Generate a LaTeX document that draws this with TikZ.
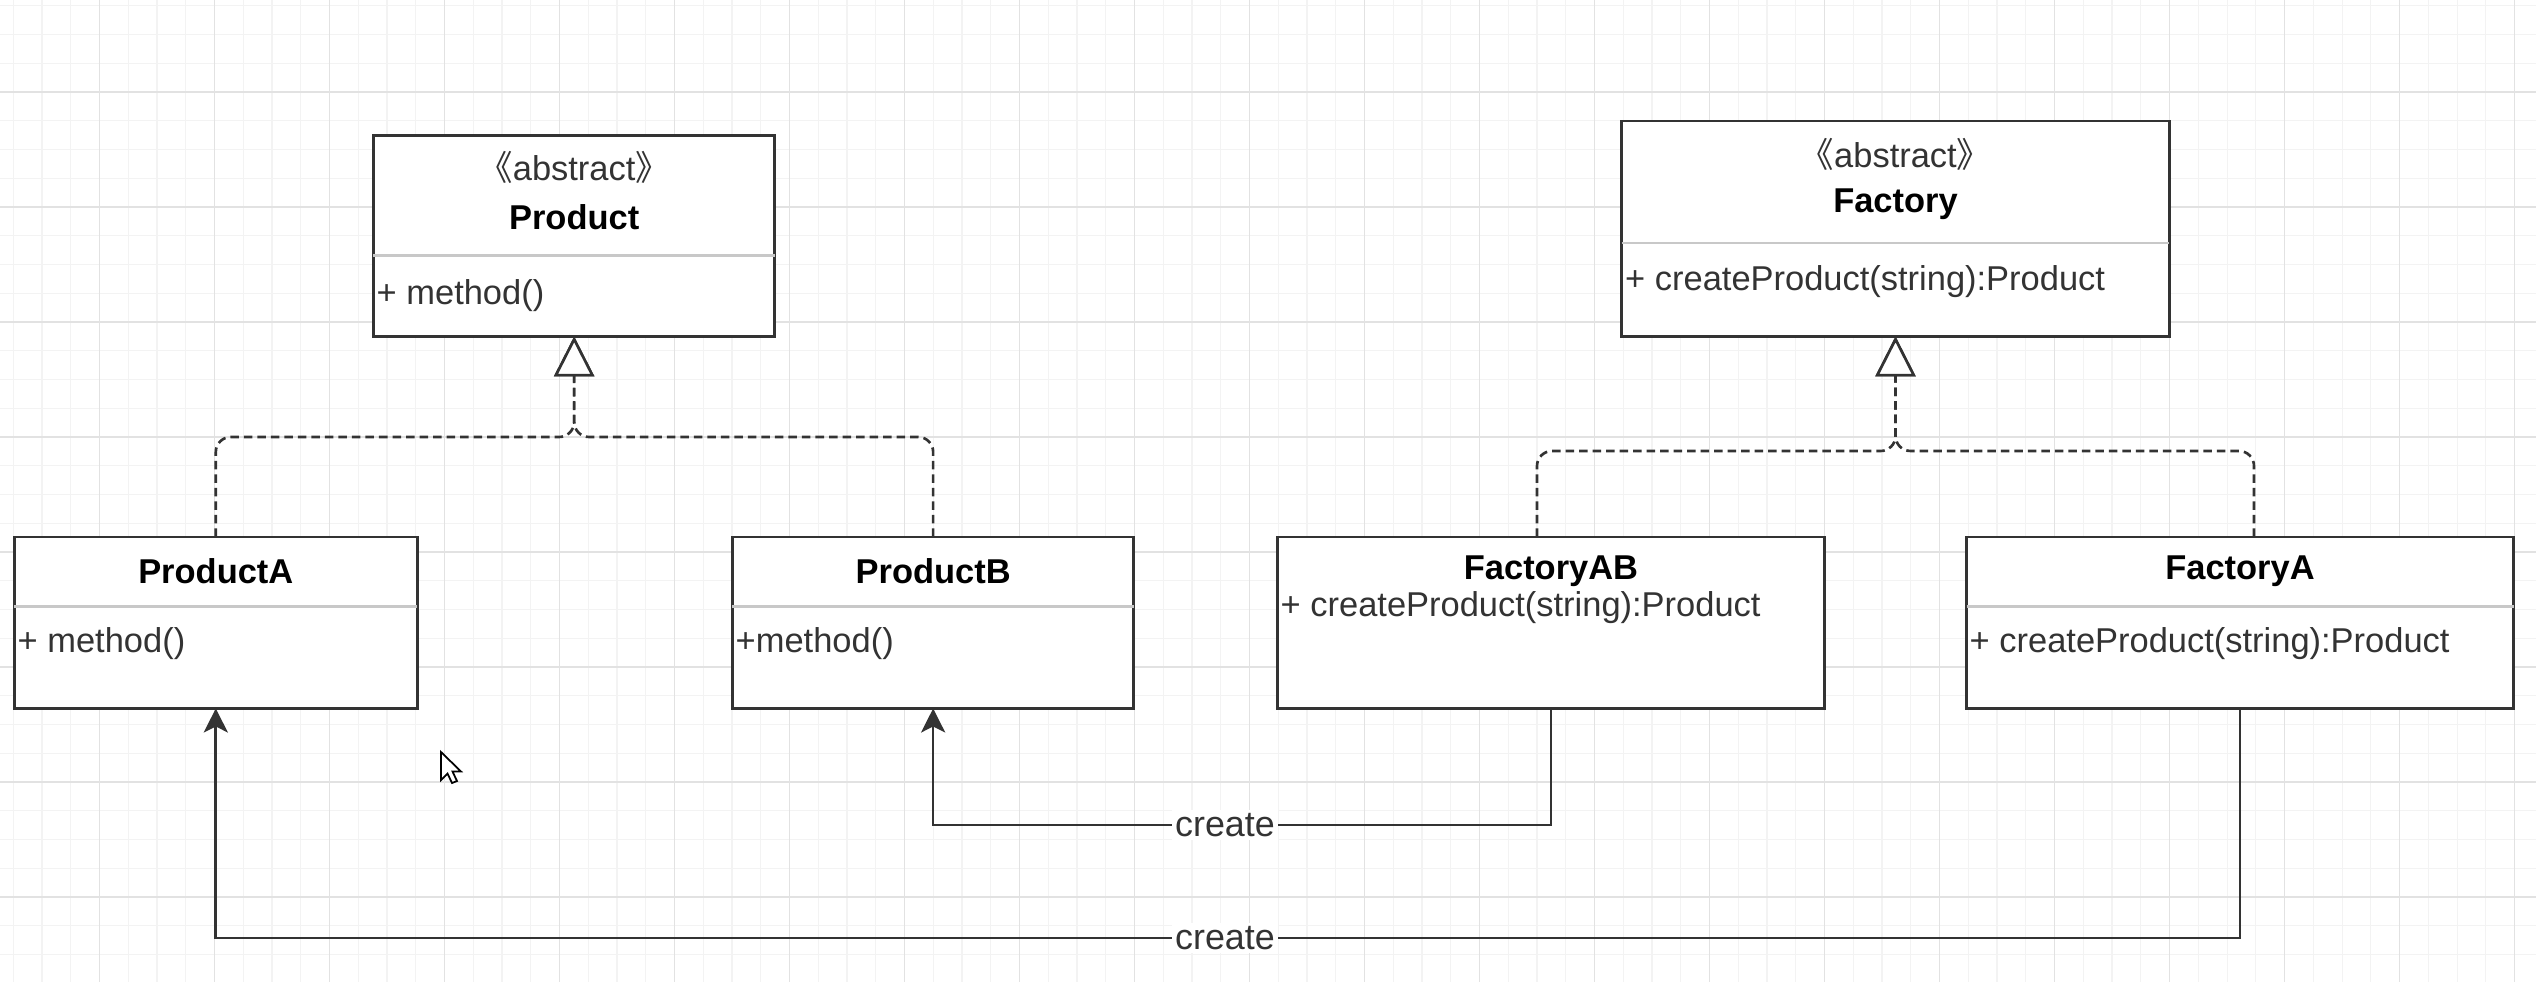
\documentclass[tikz,border=0pt]{standalone}
\usepackage{fontspec}
\setmainfont{Liberation Sans}
\newfontfamily\cjkfont{Noto Sans CJK SC}
\usetikzlibrary{arrows.meta}

\definecolor{edge}{HTML}{333333}
\definecolor{sepline}{HTML}{C8C8C8}
\definecolor{gridmajor}{HTML}{E2E2E2}
\definecolor{gridminor}{HTML}{F3F3F3}
\definecolor{membertext}{HTML}{333333}

\tikzset{
  umlbox/.style={draw=edge, line width=0.8pt, fill=white, rectangle, inner sep=0pt, outer sep=0pt},
  classname/.style={font=\fontsize{9.8}{12}\selectfont\bfseries, text=black, inner sep=0pt},
  stereotype/.style={font=\fontsize{9.8}{12}\selectfont, text=membertext, inner sep=0pt},
  member/.style={font=\fontsize{9.8}{12}\selectfont, anchor=west, text=membertext, inner sep=0pt},
  divider/.style={draw=sepline, line width=0.6pt},
  realize/.style={draw=edge, line width=0.75pt, dash pattern=on 0.085cm off 0.05cm,
    rounded corners=0.15cm, -{Triangle[open, length=0.4cm, width=0.4cm, fill=white]}},
  creates/.style={draw=edge, line width=0.75pt, -{Stealth[length=0.24cm, width=0.24cm, inset=0.06cm]}},
  edgelabel/.style={fill=white, inner sep=1pt, text=membertext, font=\fontsize{10.2}{12}\selectfont},
}

\begin{document}
\begin{tikzpicture}[x=0.01cm, y=-0.01cm]
\useasboundingbox (0,0) rectangle (2536,982);
\fill[white] (0,0) rectangle (2536,982);

% background grid
\foreach \k in {-3,...,84} {
  \draw[gridminor, line width=0.3pt] ({99.5+28.75*\k},0) -- ({99.5+28.75*\k},982);
}
\foreach \k in {-3,...,31} {
  \draw[gridminor, line width=0.3pt] (0,{92+28.75*\k}) -- (2536,{92+28.75*\k});
}
\foreach \k in {-1,...,21} {
  \draw[gridmajor, line width=0.5pt] ({99.5+115*\k},0) -- ({99.5+115*\k},982);
}
\foreach \k in {-1,...,8} {
  \draw[gridmajor, line width=0.5pt] (0,{92+115*\k}) -- (2536,{92+115*\k});
}

% class boxes
\node[umlbox, minimum width=4.011cm, minimum height=2.005cm] (prod) at (574.15,236.15) {};
\node[umlbox, minimum width=5.47cm, minimum height=2.154cm] (fac) at (1895.5,228.7) {};
\node[umlbox, minimum width=4.024cm, minimum height=1.714cm] (pa) at (215.8,622.7) {};
\node[umlbox, minimum width=4.011cm, minimum height=1.714cm] (pb) at (933.15,622.7) {};
\node[umlbox, minimum width=5.466cm, minimum height=1.714cm] (fab) at (1551,622.7) {};
\node[umlbox, minimum width=5.467cm, minimum height=1.714cm] (fa) at (2240,622.7) {};

% Product
\node[stereotype] (prodSt) at (574.15,167) {{\cjkfont 《}abstract{\cjkfont 》}};
\node[classname] (prodT) at (574.15,217) {Product};
\draw[divider] (prod.west |- 0,255.5) -- (prod.east |- 0,255.5);
\node[member] (prodM) at (376,296) {+ method()};

% Factory
\node[stereotype] (facSt) at (1895.5,154) {{\cjkfont 《}abstract{\cjkfont 》}};
\node[classname] (facT) at (1895.5,204) {Factory};
\draw[divider] (fac.west |- 0,242.6) -- (fac.east |- 0,242.6);
\node[member] (facM) at (1624.5,282) {+ createProduct(string):Product};

% ProductA
\node[classname] (paT) at (215.8,571) {ProductA};
\draw[divider] (pa.west |- 0,606.5) -- (pa.east |- 0,606.5);
\node[member] (paM) at (17,644) {+ method()};

% ProductB
\node[classname] (pbT) at (933.15,571) {ProductB};
\draw[divider] (pb.west |- 0,606.5) -- (pb.east |- 0,606.5);
\node[member] (pbM) at (735,644) {+method()};

% FactoryAB
\node[classname] (fabT) at (1551,571) {FactoryAB};
\node[member] (fabM) at (1280,608) {+ createProduct(string):Product};

% FactoryA
\node[classname] (faT) at (2240,571) {FactoryA};
\draw[divider] (fa.west |- 0,606.5) -- (fa.east |- 0,606.5);
\node[member] (faM) at (1969,644) {+ createProduct(string):Product};

% realization (dashed, hollow triangle)
\draw[realize] (pa.north) |- (prod.south |- 0,437) -- (prod.south);
\draw[realize] (pb.north) |- (prod.south |- 0,437) -- (prod.south);
\draw[realize] ([xshift=-0.14cm]fab.north) |- (fac.south |- 0,451) -- (fac.south);
\draw[realize] ([xshift=0.14cm]fa.north) |- (fac.south |- 0,451) -- (fac.south);

% create dependencies
\draw[creates] (fab.south) |- (pb.south |- 0,825) -- (pb.south);
\draw[creates] (fa.south) |- (pa.south |- 0,938) -- (pa.south);
\node[edgelabel] (lblB) at (1225,825) {create};
\node[edgelabel] (lblA) at (1225,938) {create};

% mouse pointer
\draw[black, line width=0.5pt, fill=white, line join=miter]
  (441,752) -- (441,780) -- (447.5,773.5) -- (452,783) -- (457,781) -- (452.5,771.5) -- (461,771.5) -- cycle;
\end{tikzpicture}
\end{document}
